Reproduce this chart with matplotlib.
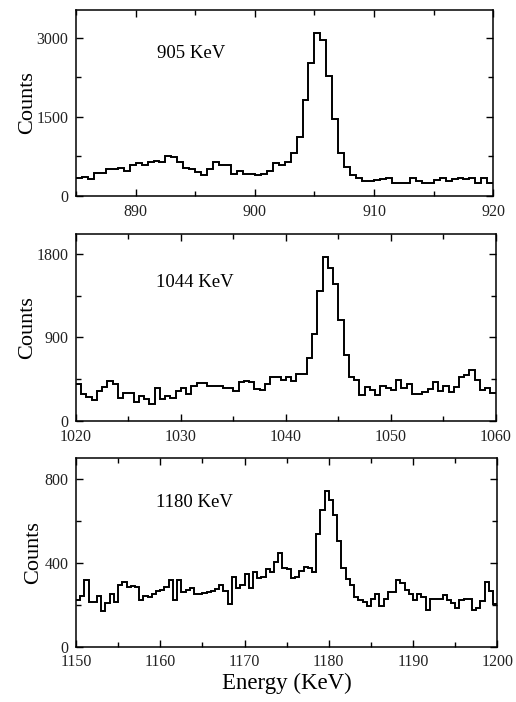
import numpy as np
import matplotlib.pyplot as plt
from matplotlib.ticker import MultipleLocator

plt.rcParams['font.family'] = ['Liberation Serif', 'DejaVu Serif']

# spectra, 0.5 keV bins
bin_width = 0.5

start_905 = 885.0
counts_905 = [340, 360, 328, 441, 441, 504, 504, 529, 479, 592,
              617, 592, 643, 668, 643, 756, 737, 643, 529, 504,
              454, 391, 504, 643, 580, 580, 416, 466, 416, 416,
              391, 416, 479, 617, 592, 643, 806, 1121, 1827, 2520,
              3087, 2948, 2268, 1462, 806, 542, 403, 340, 277, 277,
              296, 315, 340, 252, 252, 252, 340, 277, 252, 252,
              302, 340, 290, 315, 340, 315, 340, 252, 340, 252]

start_1044 = 1020.0
counts_1044 = [401, 294, 258, 222, 323, 366, 430, 394, 251, 301,
               301, 201, 272, 237, 179, 351, 237, 272, 251, 323,
               351, 294, 380, 409, 409, 380, 380, 380, 351, 351,
               323, 416, 430, 416, 344, 330, 394, 473, 473, 445,
               473, 430, 509, 509, 681, 939, 1398, 1764, 1642, 1477,
               1083, 710, 473, 437, 280, 366, 337, 280, 380, 358,
               337, 445, 351, 394, 294, 294, 315, 344, 416, 323,
               380, 315, 366, 473, 495, 552, 437, 337, 351, 301]

start_1180 = 1150.0
counts_1180 = [225, 243, 318, 214, 214, 243, 171, 211, 251, 214,
               296, 307, 286, 291, 283, 222, 243, 238, 251, 267,
               270, 286, 318, 222, 318, 262, 270, 278, 251, 254,
               258, 259, 267, 275, 294, 267, 206, 331, 278, 294,
               347, 278, 355, 326, 334, 371, 358, 403, 446, 374,
               371, 326, 334, 363, 382, 374, 358, 536, 651, 742,
               702, 627, 504, 374, 323, 296, 235, 222, 214, 195,
               230, 254, 195, 230, 259, 262, 318, 302, 270, 254,
               222, 251, 238, 174, 230, 227, 227, 246, 222, 211,
               187, 222, 227, 227, 174, 187, 219, 310, 267, 203]

labels = ['905 KeV', '1044 KeV', '1180 KeV']
xlims = [(885, 920), (1020, 1060), (1150, 1200)]
ylims = [(0, 3525), (0, 2010), (0, 900)]
ymajor = [1500, 900, 400]
label_pos = [(891.8, 2700), (1027.6, 1490), (1159.5, 690)]

fig = plt.figure(figsize=(5.16, 7.02), dpi=100)
rects = [[0.1473, 0.7208, 0.8087, 0.2650],
         [0.1473, 0.4003, 0.8134, 0.2660],
         [0.1473, 0.0788, 0.8165, 0.2684]]
ylabel_x = [-0.094, -0.093, -0.078]

spectra = [(start_905, counts_905), (start_1044, counts_1044), (start_1180, counts_1180)]

for i, (start, counts) in enumerate(spectra):
    ax = fig.add_axes(rects[i])
    edges = start + bin_width * np.arange(len(counts) + 1)
    ax.stairs(counts, edges, baseline=None, color='black', lw=1.4)

    ax.set_xlim(*xlims[i])
    ax.set_ylim(*ylims[i])
    ax.xaxis.set_major_locator(MultipleLocator(10))
    ax.xaxis.set_minor_locator(MultipleLocator(5))
    ax.yaxis.set_major_locator(MultipleLocator(ymajor[i]))
    ax.yaxis.set_minor_locator(MultipleLocator(ymajor[i] / 2))
    ax.tick_params(which='both', direction='in', top=True, right=True,
                   labelsize=11.5, width=1.0, pad=5.5, labelcolor='#222222')
    ax.tick_params(which='major', length=5)
    ax.tick_params(which='minor', length=3.8)
    for s in ax.spines.values():
        s.set_linewidth(1.1)

    ax.set_ylabel('Counts', fontsize=16)
    ax.yaxis.set_label_coords(ylabel_x[i], 0.5)
    ax.text(label_pos[i][0], label_pos[i][1], labels[i], fontsize=13.5,
            ha='left', va='center')

    if i == 2:
        ax.set_xlabel('Energy (KeV)', fontsize=16.5, labelpad=2)

fig.savefig('out.png', dpi=100)
